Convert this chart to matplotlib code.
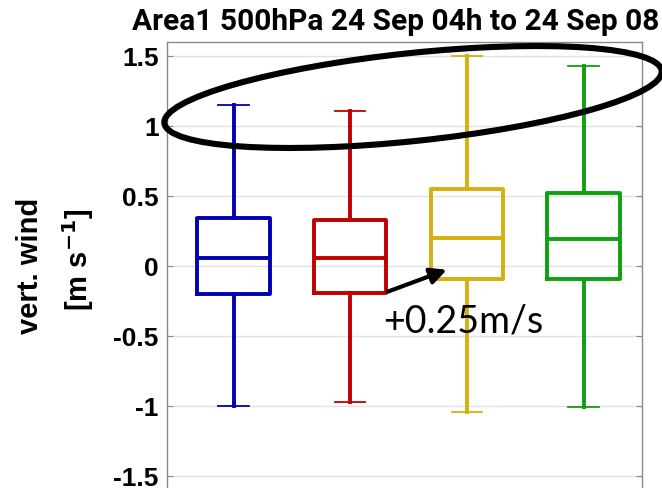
import matplotlib
matplotlib.use("Agg")
import matplotlib.pyplot as plt
from matplotlib.patches import Ellipse

labels = ["A", "B", "C", "D"]
colors = ["#0000b4", "#c00000", "#d6b00e", "#10a010"]
whislo = [-1.00, -0.97, -1.04, -1.01]
q1 = [-0.20, -0.19, -0.09, -0.09]
med = [0.06, 0.06, 0.20, 0.19]
q3 = [0.34, 0.33, 0.55, 0.52]
whishi = [1.15, 1.11, 1.50, 1.43]
yticks = [-1.5, -1, -0.5, 0, 0.5, 1, 1.5]
ytick_labels = ["-1.5", "-1", "-0.5", "0", "0.5", "1", "1.5"]

W, H = 662, 489
fig = plt.figure(figsize=(W / 100, H / 100), dpi=100)
ax = fig.add_axes([167 / W, 1 - 491 / H, (642 - 167) / W, (491 - 43) / H])

stats = []
for i in range(4):
    stats.append(dict(label=labels[i], whislo=whislo[i], q1=q1[i], med=med[i],
                      q3=q3[i], whishi=whishi[i], fliers=[]))
for i, s in enumerate(stats):
    c = colors[i]
    ax.bxp([s], positions=[i + 1], widths=0.62, showfliers=False,
           boxprops=dict(color=c, linewidth=2.8),
           medianprops=dict(color=c, linewidth=2.8),
           whiskerprops=dict(color=c, linewidth=2.8),
           capprops=dict(color=c, linewidth=1.3),
           capwidths=0.26)

ax.set_xlim(0.43, 4.5)
ax.set_ylim(-1.6, 1.6)
ax.set_xticks([])
ax.set_yticks(yticks)
ax.set_yticklabels(ytick_labels, fontfamily="Liberation Sans", fontweight="bold", fontsize=19)
ax.tick_params(axis="y", direction="in", length=4, pad=6, right=True, color="#888888")
ax.yaxis.grid(True, color="#e2e2e2", linewidth=1)
ax.set_axisbelow(True)
for sp in ax.spines.values():
    sp.set_color("#8a8a8a")
    sp.set_linewidth(1.0)

fig.text(30 / W, 1 - 266 / H, "vert. wind", rotation=90, ha="center", va="center",
         fontfamily="Liberation Sans", fontweight="bold", fontsize=21)
fig.text(78 / W, 1 - 260 / H, r"[m s$^{\mathbf{-1}}$]", rotation=90, ha="center", va="center",
         fontfamily="Liberation Sans", fontweight="bold", fontsize=21)

fig.text(132 / W, 1 - 30 / H, "Area1 500hPa 24 Sep 04h to 24 Sep 08", ha="left", va="baseline",
         fontfamily="Roboto", fontweight="bold", fontsize=21.5)

ell = Ellipse((4.13, 3.91), 5.0, 0.88, angle=6, transform=fig.dpi_scale_trans,
              fill=False, edgecolor="black", linewidth=4.4, clip_on=False)
fig.add_artist(ell)

ax.annotate("", xy=(2.85, -0.02), xytext=(2.30, -0.19),
            arrowprops=dict(arrowstyle="-|>", color="black", lw=3, mutation_scale=24),
            annotation_clip=False)
ax.text(2.97, -0.39, "+0.25m/s", ha="center", va="center", fontfamily="Lato", fontsize=27)

fig.savefig("out.png", dpi=100)
